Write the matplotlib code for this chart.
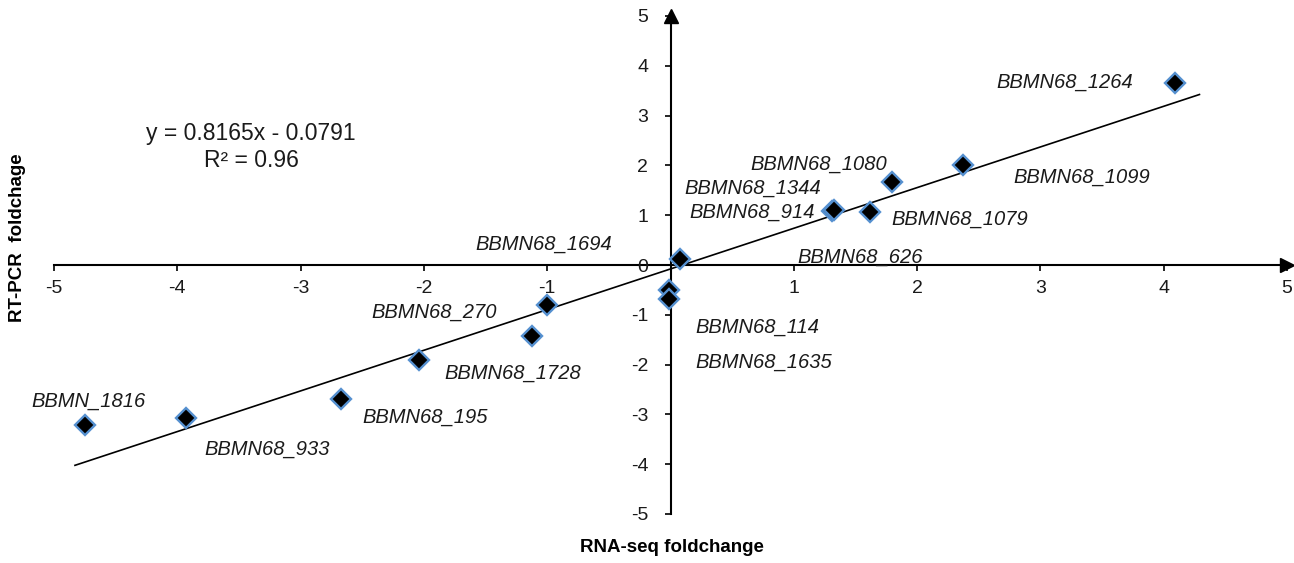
import matplotlib
matplotlib.use("Agg")
import matplotlib.pyplot as plt
import numpy as np

plt.rcParams['font.family'] = ['Liberation Sans', 'DejaVu Sans']

# ---- data ----
genes = ['BBMN_1816', 'BBMN68_933', 'BBMN68_195', 'BBMN68_1728', 'BBMN68_270',
         'BBMN68_1694', 'BBMN68_114', 'BBMN68_1635', 'BBMN68_626', 'BBMN68_914',
         'BBMN68_1344', 'BBMN68_1080', 'BBMN68_1079', 'BBMN68_1099', 'BBMN68_1264']
rnaseq = [-4.75, -3.93, -2.67, -2.04, -1.12, -1.00, -0.01, -0.01, 0.08, 1.31,
          1.33, 1.80, 1.62, 2.37, 4.09]
rtpcr = [-3.22, -3.08, -2.69, -1.91, -1.42, -0.80, -0.50, -0.69, 0.12, 1.09,
         1.11, 1.66, 1.07, 2.01, 3.65]
slope, intercept, r2 = 0.8165, -0.0791, 0.96
xticks = [-5, -4, -3, -2, -1, 1, 2, 3, 4, 5]
yticks = [-5, -4, -3, -2, -1, 0, 1, 2, 3, 4, 5]

# label placement (layout, data coords of left edge / vertical centre)
label_pos = {
    'BBMN_1816': (-5.18, -2.74), 'BBMN68_933': (-3.78, -3.70),
    'BBMN68_195': (-2.50, -3.06), 'BBMN68_1728': (-1.83, -2.17),
    'BBMN68_270': (-2.43, -0.94), 'BBMN68_1694': (-1.58, 0.42),
    'BBMN68_114': (0.20, -1.25), 'BBMN68_1635': (0.20, -1.96),
    'BBMN68_626': (1.03, 0.15), 'BBMN68_914': (0.15, 1.06),
    'BBMN68_1344': (0.11, 1.55), 'BBMN68_1080': (0.65, 2.03),
    'BBMN68_1079': (1.79, 0.92), 'BBMN68_1099': (2.78, 1.77),
    'BBMN68_1264': (2.64, 3.67),
}

W, H = 1294, 563
fig = plt.figure(figsize=(W / 100, H / 100), dpi=100)
ax = fig.add_axes([54 / W, 1 - 514 / H, (1287 - 54) / W, (514 - 16) / H])
ax.set_xlim(-5, 5)
ax.set_ylim(-5, 5)

for s in ['top', 'right']:
    ax.spines[s].set_visible(False)
ax.spines['left'].set_position(('data', 0))
ax.spines['bottom'].set_position(('data', 0))
for s in ['left', 'bottom']:
    ax.spines[s].set_linewidth(1.5)
    ax.spines[s].set_zorder(1)

ax.set_xticks(xticks)
ax.set_yticks(yticks)
ax.tick_params(axis='x', direction='out', length=4, width=1.2, labelsize=14,
               pad=7, labelcolor='#1a1a1a')
ax.tick_params(axis='y', direction='out', length=4, width=1.2, labelsize=14,
               pad=12, labelcolor='#1a1a1a')
ax.set_xticklabels([str(t) for t in xticks])
ax.set_yticklabels([str(t) for t in yticks])

# arrows at axis ends
ax.plot(1, 0, marker='>', color='black', ms=10, transform=ax.get_yaxis_transform(), clip_on=False)
ax.plot(0, 1, marker='^', color='black', ms=10, transform=ax.get_xaxis_transform(), clip_on=False)

# trendline
xl = np.array([-4.83, 4.29])
ax.plot(xl, slope * xl + intercept, color='black', lw=1.2, zorder=2)

# points
ax.plot(rnaseq, rtpcr, linestyle='none', marker='D', ms=10, mfc='black',
        mec='#5590d0', mew=1.7, zorder=3)

for g in genes:
    lx, ly = label_pos[g]
    ax.text(lx, ly, g, fontsize=14.5, style='italic', ha='left', va='center',
            color='#1a1a1a', zorder=4)

ax.text(-3.40, 2.37, f'y = {slope}x - {abs(intercept)}\nR² = {r2}', fontsize=16.5,
        ha='center', va='center', linespacing=1.22, color='#1a1a1a')

fig.text(672 / W, 1 - 548 / H, 'RNA-seq foldchange', fontsize=13.5, fontweight='bold',
         ha='center', va='center')
fig.text(18 / W, 1 - 238 / H, 'RT-PCR  foldchage', fontsize=13.5, fontweight='bold',
         ha='center', va='center', rotation=90)

fig.savefig('out.png', dpi=100)
